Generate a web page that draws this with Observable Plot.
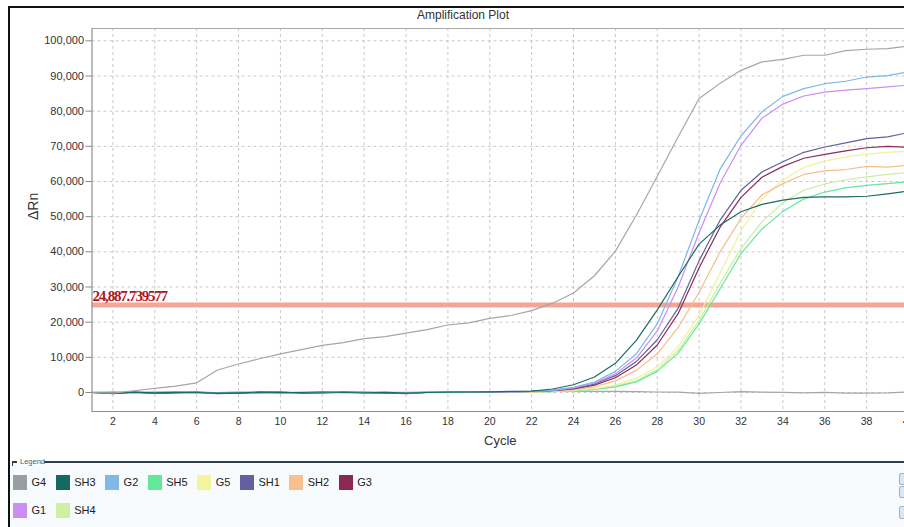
<!DOCTYPE html>
<html><head><meta charset="utf-8">
<script src="https://cdn.jsdelivr.net/npm/d3@7"></script>
<script src="https://cdn.jsdelivr.net/npm/@observablehq/plot@0.6"></script>
<style>
html,body{margin:0;padding:0;width:904px;height:527px;overflow:hidden;background:#fff;font-family:"Liberation Sans",Arial,sans-serif;}
#wrap{position:relative;width:904px;height:527px;overflow:hidden;background:#fff;}
#chart{position:absolute;left:0;top:0;width:930px;}
#chart svg{max-width:none !important;}
#frameL{position:absolute;left:8px;top:7px;width:2px;height:530px;background:#111;}
#frameT{position:absolute;left:8px;top:6px;width:900px;height:1.5px;background:#111;}
#title{position:absolute;left:0;width:926px;top:8px;text-align:center;font-size:12px;color:#333;}
#legendArea{position:absolute;left:10px;top:462px;width:900px;height:70px;background:#f8fbfd;}
#legendLine{position:absolute;left:44px;top:461px;width:870px;height:1.5px;background:#2e3e4c;}
#legendTick{position:absolute;left:12px;top:461px;width:5px;height:1.5px;background:#2e3e4c;}
#legendTickV{position:absolute;left:12px;top:461px;width:1px;height:5px;background:#2e3e4c;}
#legendTitle{position:absolute;left:20px;top:457px;font-size:7.5px;color:#46607a;}
.lrow{position:absolute;left:13px;display:flex;align-items:center;}
.item{display:flex;align-items:center;margin-right:9.5px;}
.sw{width:14px;height:15px;margin-right:4.5px;}
.lab{font-size:11px;color:#222;}
.btn{position:absolute;left:899px;width:8px;background:#dbe6f2;border:1px solid #9fb3c8;border-radius:2px;}
</style>
</head><body>
<div id="wrap">
  <div id="chart"></div>
  <div id="legendArea"></div>
  <div id="frameL"></div>
  <div id="frameT"></div>
  <div id="title">Amplification Plot</div>
  <div id="legendLine"></div>
  <div id="legendTick"></div>
  <div id="legendTickV"></div>
  <div id="legendTitle">Legend</div>
  <div id="legend"></div>
  <div class="btn" style="top:473px;height:10px"></div>
  <div class="btn" style="top:486px;height:10px"></div>
  <div class="btn" style="top:506px;height:11px"></div>
</div>
<script>
const cycles = [1,2,3,4,5,6,7,8,9,10,11,12,13,14,15,16,17,18,19,20,21,22,23,24,25,26,27,28,29,30,31,32,33,34,35,36,37,38,39,40];

const G4  = [0,-200,500,1200,1800,2750,6400,8100,9600,11000,12200,13400,14200,15300,15900,16900,17900,19200,19800,21100,21900,23300,25400,28300,33200,40200,50400,61500,72700,83600,87900,91600,94000,94700,95900,95900,97200,97600,97800,98500];
const G4b = [100,-100,0,100,200,100,-100,0,100,-50,0,100,50,0,-100,0,100,150,100,200,250,300,350,400,350,300,250,150,100,-250,0,250,100,50,-100,50,-150,-200,-100,200];
const SH3 = [0,-150,100,-100,50,0,-200,-100,100,-50,0,150,0,-100,50,-200,0,100,150,200,300,400,1000,2200,4400,8300,14800,23500,33000,42200,47600,51400,53500,54700,55500,55600,55600,55800,56500,57300];
const G2  = [0,100,-50,0,100,-100,0,50,-150,-100,50,0,-50,100,0,-100,50,0,100,150,200,300,700,1500,3000,6000,11000,19500,33000,49000,63500,73000,79800,84200,86400,87800,88500,89700,90100,91200];
const SH5 = [0,-100,0,100,-50,50,0,-100,0,100,-50,-100,0,50,-50,0,100,50,100,150,150,150,250,500,900,1600,3000,6000,11200,19500,29500,39500,46500,51500,55000,57000,58200,58900,59400,59900];
const G5  = [0,50,-100,0,50,0,-100,50,0,-50,100,0,-100,0,50,-50,0,50,100,100,150,150,300,600,1100,2100,4000,7300,13000,22000,34000,46000,55000,60500,64000,65800,67000,67800,68300,68600];
const SH1 = [0,-200,100,-150,0,100,-200,-150,100,50,-100,0,100,-50,0,-150,50,0,150,200,250,300,600,1200,2400,4800,8800,15000,24000,37500,49000,57500,62700,65600,68300,69800,71000,72200,72700,73900];
const SH2 = [0,0,50,-100,0,50,-50,0,-100,0,50,-50,0,0,-100,50,0,100,100,150,150,200,400,800,1600,3300,6300,11000,18500,28500,40000,49500,56200,59400,62000,63000,63400,64300,64100,64600];
const G3  = [0,-350,50,-250,-100,50,-300,-200,-50,150,-200,-100,100,50,-100,-300,0,50,100,200,250,300,500,1000,2100,4200,7800,13500,22500,35500,47000,55500,61200,64300,66600,67700,68700,69600,70000,69700];
const G1  = [0,100,0,-50,100,0,-50,100,0,-100,0,100,0,-50,150,-50,0,100,150,150,200,300,600,1300,2700,5300,9800,17500,30000,45500,59500,70300,78000,82000,84300,85400,86000,86400,86900,87400];
const SH4 = [0,-50,50,0,-100,50,0,-50,50,0,-100,50,0,-50,0,50,-50,50,100,100,150,150,250,500,1000,1800,3300,6500,12000,20500,31000,41000,48500,54000,57500,59300,60500,61300,62000,62600];

const sampleNames  = ["G4","SH3","G2","SH5","G5","SH1","SH2","G3","G1","SH4"];
const sampleColors = ["#999e9e","#146a60","#80b9e8","#62e898","#f2f59c","#62609e","#f8c08e","#8c2854","#c98ef0","#cdf0a2"];
const lineColors   = ["#a6a6a6","#1a6b63","#7db7e8","#66e89a","#f0f29a","#62609e","#f6bd8c","#8d2a55","#c98ef0","#c9eea0"];

const wells = [
  {well:"G4b", sample:"G4", values:G4b},
  {well:"SH4", sample:"SH4", values:SH4},
  {well:"SH5", sample:"SH5", values:SH5},
  {well:"G5", sample:"G5", values:G5},
  {well:"SH2", sample:"SH2", values:SH2},
  {well:"G3", sample:"G3", values:G3},
  {well:"SH1", sample:"SH1", values:SH1},
  {well:"G1", sample:"G1", values:G1},
  {well:"G2", sample:"G2", values:G2},
  {well:"SH3", sample:"SH3", values:SH3},
  {well:"G4", sample:"G4", values:G4}
];

const threshold = 24887.739577;
const thresholdLabel = "24,887.739577";
const xTicks = [2,4,6,8,10,12,14,16,18,20,22,24,26,28,30,32,34,36,38,40];
const yTicks = [0,10000,20000,30000,40000,50000,60000,70000,80000,90000,100000];
const yMin = -5400, yMax = 103500;

const rows = wells.flatMap(w => cycles.map((c,i) => ({well:w.well, sample:w.sample, cycle:c, value:w.values[i]})));

const plot = Plot.plot({
  width: 930, height: 455,
  marginTop: 28, marginLeft: 91.5, marginRight: 22, marginBottom: 44,
  style: {fontFamily: '"Liberation Sans", Arial, sans-serif', fontSize: "11px", color: "#333", background: "transparent", overflow: "visible", maxWidth: "none"},
  x: {domain: [1, 40], label: null},
  y: {domain: [yMin, yMax], label: null},
  color: {domain: sampleNames, range: lineColors},
  marks: [
    Plot.gridX(xTicks, {stroke: "#c8c8c8", strokeOpacity: 1, strokeDasharray: "3,3"}),
    Plot.gridY(yTicks, {stroke: "#c8c8c8", strokeOpacity: 1, strokeDasharray: "3,3"}),
    Plot.ruleY([threshold], {stroke: "#f5a596", strokeWidth: 5}),
    Plot.line(rows, {x: "cycle", y: "value", z: "well", stroke: "sample", strokeWidth: 1.2}),
    Plot.text([threshold], {x: () => 1, y: d => d, text: () => thresholdLabel, textAnchor: "start", dy: -9, dx: 0.5,
      fill: "#b01420", fontFamily: '"Liberation Serif", "Times New Roman", serif', fontWeight: "bold", fontSize: 15}),
    Plot.ruleY([yMax], {stroke: "#a8a8a8"}),
    Plot.ruleY([yMin], {stroke: "#8f8f8f", strokeWidth: 1.2}),
    Plot.ruleX([1], {stroke: "#8f8f8f", strokeWidth: 1.2}),
    Plot.axisX(xTicks, {tickSize: 0, tickPadding: 6, fontSize: 10.5, fill: "#333", label: null}),
    Plot.axisY(yTicks, {tickSize: 6, tickPadding: 2, stroke: "#888", fontSize: 11, fill: "#333", tickFormat: d3.format(","), label: null}),
    Plot.text(["Cycle"], {frameAnchor: "bottom", lineAnchor: "middle", dy: 29, fontSize: 13, fill: "#333", text: d => d}),
    Plot.text(["ΔRn"], {frameAnchor: "left", dx: -58.5, rotate: -90, fontSize: 14, fill: "#333", text: d => d})
  ]
});
plot.style.maxWidth = "none";
document.getElementById("chart").appendChild(plot);
d3.select(plot).selectAll("text").filter(function(){ return this.textContent === thresholdLabel; })
  .style("letter-spacing", "-1.2px");

const legend = document.getElementById("legend");
const rowsDef = [sampleNames.slice(0, 8), sampleNames.slice(8)];
const rowTops = [474.5, 502.5];
rowsDef.forEach((names, r) => {
  const row = document.createElement("div");
  row.className = "lrow";
  row.style.top = rowTops[r] + "px";
  names.forEach(n => {
    const it = document.createElement("div"); it.className = "item";
    const sw = document.createElement("div"); sw.className = "sw";
    sw.style.background = sampleColors[sampleNames.indexOf(n)];
    const lab = document.createElement("span"); lab.className = "lab"; lab.textContent = n;
    it.appendChild(sw); it.appendChild(lab); row.appendChild(it);
  });
  legend.appendChild(row);
});
</script>
</body></html>
